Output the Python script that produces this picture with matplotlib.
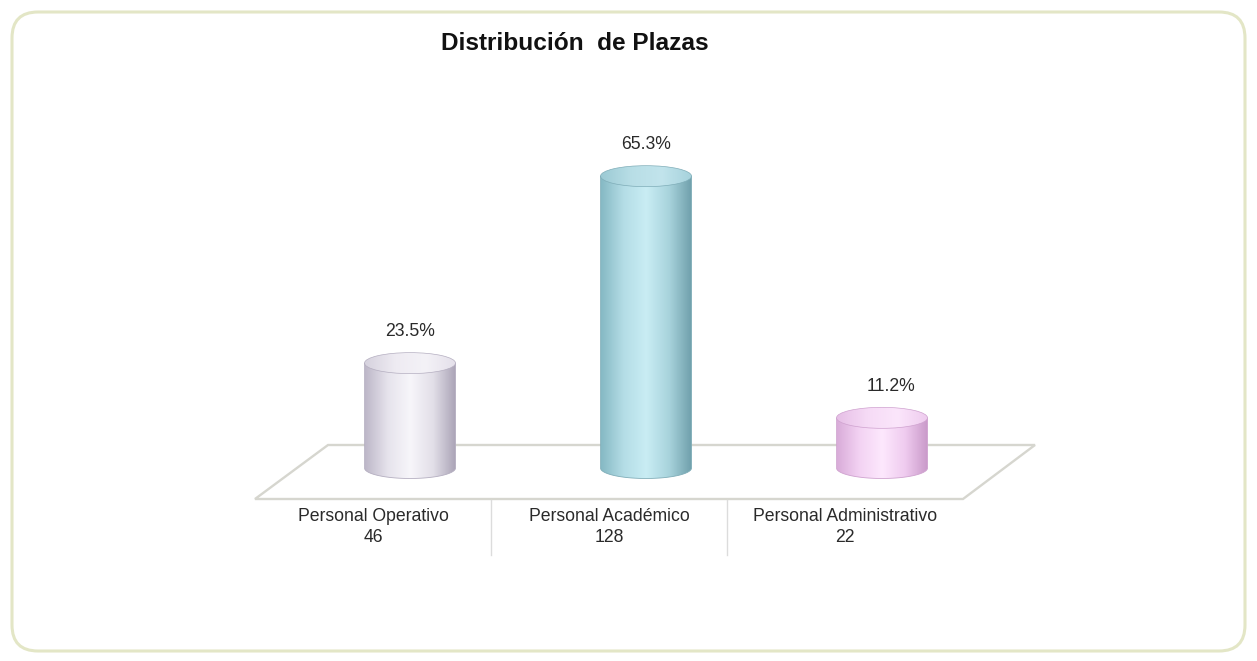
import numpy as np
import matplotlib
matplotlib.use('Agg')
import matplotlib.pyplot as plt
from matplotlib.patches import FancyBboxPatch, Polygon, PathPatch, Ellipse
from matplotlib.path import Path
from matplotlib.colors import LinearSegmentedColormap
from matplotlib import font_manager

# ---- data ----
categories = ["Personal Operativo", "Personal Académico", "Personal Administrativo"]
counts = [46, 128, 22]
percent_labels = ["23.5%", "65.3%", "11.2%"]
title = "Distribución  de Plazas"

# ---- styles ----
body_colors = [
    ["#bdb7c8", "#e6e3ec", "#f7f6fa", "#e2dfe8", "#aaa3b6"],
    ["#86b9c4", "#b4dde6", "#c9edf4", "#a8d3dc", "#6f9fab"],
    ["#d9acd9", "#f3d3f3", "#fde8fd", "#efcbef", "#c999c9"],
]
top_colors = [
    ["#d6d2de", "#eeebf2", "#f4f2f7", "#e4e0ea"],
    ["#9ccad4", "#b8dee6", "#c2e4ec", "#a6d2dc"],
    ["#e6bfe6", "#f6dbf6", "#fbe6fb", "#eecbee"],
]
edge_colors = ["#b4aec0", "#7fadb8", "#cfa2cf"]


def pick_font(names):
    for n in names:
        try:
            font_manager.findfont(font_manager.FontProperties(family=n), fallback_to_default=False)
            return n
        except Exception:
            continue
    return "DejaVu Sans"

regular = pick_font(["Liberation Sans", "DejaVu Sans"])
lab_size = 12.7
txt_color = "#2a2a2a"

W, H = 1257, 661
fig = plt.figure(figsize=(W / 100, H / 100), dpi=100)
fig.patch.set_facecolor("white")

# background / decoration axes in pixel coordinates
bg = fig.add_axes([0, 0, 1, 1])
bg.set_xlim(0, W)
bg.set_ylim(H, 0)
bg.axis("off")
frame = FancyBboxPatch((12, 12), W - 24, H - 22, boxstyle="round,pad=0,rounding_size=26",
                       facecolor="white", edgecolor="#e3e6c6", lw=2.2)
bg.add_patch(frame)
floor = Polygon([(255, 499), (963, 499), (1035, 445), (328, 445)], closed=True,
                facecolor="white", edgecolor="#d6d6cf", lw=1.7)
bg.add_patch(floor)
bg.text(575, 43, title, ha="center", va="center", fontsize=17.6, fontweight="bold",
        family=regular, color="#111111")

# bar axes: x = category index, y = count
px_per_unit = 2.28
x0_px, step_px = 410, 236
base_px = 468
ymin, ymax = -40, 140
ax = fig.add_axes([(x0_px - 0.5 * step_px) / W, (H - base_px - (-ymin) * px_per_unit) / H,
                   3 * step_px / W, (ymax - ymin) * px_per_unit / H])
ax.patch.set_alpha(0)
ax.axis("off")

hw = 45.5 / step_px
ry = 10.5 / px_per_unit
n = len(counts)

for i, v in enumerate(counts):
    xc = i
    t = np.linspace(np.pi, 2 * np.pi, 60)
    pts = [(xc - hw, v), (xc - hw, 0)]
    pts += list(zip(xc + hw * np.cos(t), ry * np.sin(t)))
    pts += [(xc + hw, 0), (xc + hw, v)]
    pts.append((xc - hw, v))
    body = PathPatch(Path(pts, closed=True), transform=ax.transData,
                     facecolor="none", edgecolor=edge_colors[i], lw=0.6, zorder=3)
    ax.add_patch(body)
    cmap = LinearSegmentedColormap.from_list("b%d" % i, body_colors[i])
    grad = np.tile(np.linspace(0, 1, 256), (2, 1))
    im = ax.imshow(grad, extent=[xc - hw, xc + hw, -ry, v], aspect="auto", cmap=cmap,
                   origin="lower", interpolation="bilinear", zorder=2)
    im.set_clip_path(body)

    top = Ellipse((xc, v), 2 * hw, 2 * ry, transform=ax.transData,
                  facecolor="none", edgecolor=edge_colors[i], lw=0.5, zorder=5)
    ax.add_patch(top)
    cmap_t = LinearSegmentedColormap.from_list("t%d" % i, top_colors[i])
    im2 = ax.imshow(grad, extent=[xc - hw, xc + hw, v - ry, v + ry], aspect="auto",
                    cmap=cmap_t, origin="lower", interpolation="bilinear", zorder=4)
    im2.set_clip_path(top)

    ax.text(xc + (0.04 if i == 2 else 0), v + 2 * ry + 4.5, percent_labels[i],
            ha="center", va="center", fontsize=lab_size, family=regular,
            color=txt_color, clip_on=False)

    # category table below floor
    lx = xc - 37 / step_px
    ax.text(lx, -21.3, categories[i], ha="center", va="center", fontsize=lab_size,
            family=regular, color=txt_color, clip_on=False)
    ax.text(lx, -30.3, str(v), ha="center", va="center", fontsize=lab_size,
            family=regular, color=txt_color, clip_on=False)
    if i < n - 1:
        dx = i + 0.5 - 37 / step_px
        ax.plot([dx, dx], [-14, -38], color="#dcdcdc", lw=1.0, clip_on=False)

ax.set_xlim(-0.5, n - 0.5)
ax.set_ylim(ymin, ymax)

fig.savefig("out.png", dpi=100)
